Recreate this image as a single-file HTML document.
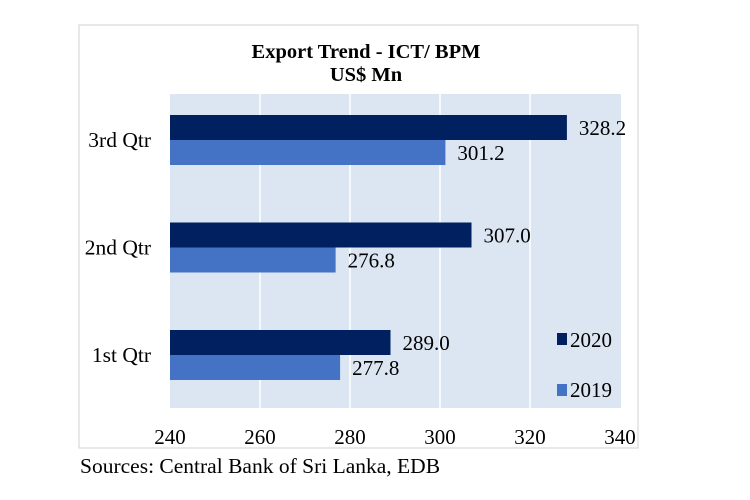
<!DOCTYPE html>
<html><head><meta charset="utf-8"><style>
body{margin:0;background:#fff;width:750px;height:495px;overflow:hidden;font-family:"Liberation Serif",serif}
svg text{font-family:"Liberation Serif",serif}
</style></head><body>
<svg width="750" height="495">
<rect x="79" y="25" width="559" height="423" fill="#fff" stroke="#d0d0d0"/>
<rect x="170" y="94" width="451" height="314" fill="#dce6f2"/>
<g id="grid"></g><g id="bars"></g><g id="labels"></g>
<text x="366" y="58" text-anchor="middle" font-weight="bold" font-size="20.5">Export Trend - ICT/ BPM</text>
<text x="366" y="81" text-anchor="middle" font-weight="bold" font-size="20.5">US$ Mn</text>
<rect x="557" y="333" width="10" height="12" fill="#002060"/>
<text x="570" y="347" font-size="21">2020</text>
<rect x="557" y="384" width="10" height="12" fill="#4472c4"/>
<text x="570" y="397" font-size="21">2019</text>
<text x="80" y="473" font-size="21.5">Sources: Central Bank of Sri Lanka, EDB</text>
</svg>
<script>
const categories=["3rd Qtr","2nd Qtr","1st Qtr"];
const values2020=[328.2,307.0,289.0];
const values2019=[301.2,276.8,277.8];
const ticks=[240,260,280,300,320,340];
const ns="http://www.w3.org/2000/svg";
const x=v=>170+(v-240)*4.5;
const yc=i=>140+i*107.5;
function mk(t,a,p){const e=document.createElementNS(ns,t);for(const k in a)e.setAttribute(k,a[k]);document.getElementById(p).appendChild(e);return e;}
ticks.forEach(t=>{
 if(t>240&&t<340){const l=mk("line",{x1:x(t),x2:x(t),y1:94,y2:408,stroke:"#fff","stroke-width":1.5},"grid");
 
 }
 const tx=mk("text",{x:x(t),y:444,"text-anchor":"middle","font-size":21},"labels");tx.textContent=t;
 
 
});
categories.forEach((c,i)=>{
 const cy=yc(i);
 const ct=mk("text",{x:151,y:cy+7,"text-anchor":"end","font-size":21.5},"labels");ct.textContent=c;
 
 
 [[values2020[i],"#002060",cy-25],[values2019[i],"#4472c4",cy]].forEach(([v,col,y0],j)=>{
  const b=mk("rect",{x:170,y:y0,width:x(v)-170,height:25,fill:col},"bars");
  
  
  const t=mk("text",{x:x(v)+12,y:y0+20,"font-size":21},"labels");t.textContent=v.toFixed(1);
  
  
 });
});
</script>
</body></html>
